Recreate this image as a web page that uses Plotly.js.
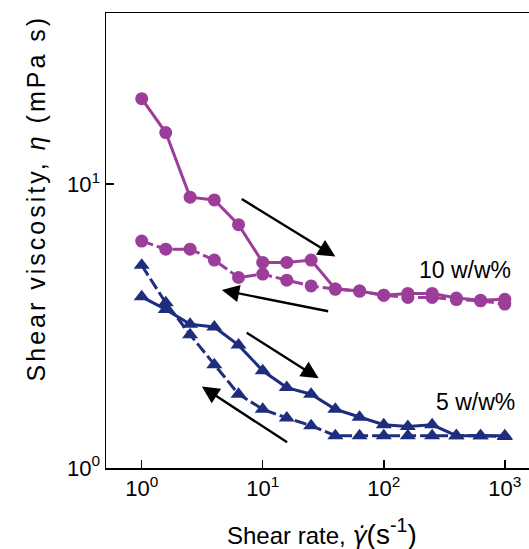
<!DOCTYPE html>
<html>
<head>
<meta charset="utf-8">
<script src="https://cdn.plot.ly/plotly-3.0.1.min.js"></script>
<style>
  html, body { margin: 0; padding: 0; background: #fff; }
  #chart { width: 529px; height: 549px; }
  /* widen the tracking of the vertical axis label */
  .annotation[data-index="0"] .annotation-text { letter-spacing: 3px; }
</style>
</head>
<body>
<div id="chart"></div>
<script>
// Shear rate sweep points (1/s), five per decade
const shearRate = [1, 1.58, 2.51, 3.98, 6.31, 10, 15.8, 25.1, 39.8, 63.1, 100, 158, 251, 398, 631, 1000];

// 10 w/w% : increasing then decreasing shear rate (mPa s)
const visc10Up   = [20.0, 15.2, 9.0, 8.8, 7.2, 5.3, 5.3, 5.4, 4.27, 4.2, 4.06, 4.12, 4.12, 3.97, 3.9, 3.93];
const visc10Down = [6.3, 5.9, 5.9, 5.4, 4.69, 4.82, 4.59, 4.38, 4.27, 4.2, 4.06, 3.99, 3.99, 3.92, 3.88, 3.78];

// 5 w/w% : increasing then decreasing shear rate (mPa s)
const visc5Up   = [4.01, 3.62, 3.21, 3.14, 2.71, 2.20, 1.92, 1.82, 1.61, 1.51, 1.42, 1.40, 1.42, 1.30, 1.30, 1.30];
const visc5Down = [5.18, 3.82, 2.95, 2.31, 1.82, 1.61, 1.50, 1.41, 1.30, 1.30, 1.30, 1.30, 1.30, 1.30, 1.30, 1.29];

// Axis ticks
const xTickVals = [1, 10, 100, 1000];
const xTickText = ['10<sup>0</sup>', '10<sup>1</sup>', '10<sup>2</sup>', '10<sup>3</sup>'];
const yTickVals = [1, 10];
const yTickText = ['10<sup>0</sup>', '10<sup>1</sup>'];

const magenta = '#9c3d99';
const navy = '#1e2d7e';
const FONT = 'Liberation Sans, Arial, Helvetica, sans-serif';

function series(y, color, symbol, size, dash) {
  return {
    x: shearRate, y: y, type: 'scatter', mode: 'lines+markers',
    line: { color: color, width: 3, dash: dash },
    marker: { color: color, symbol: symbol, size: size },
    hoverinfo: 'skip'
  };
}

const data = [
  series(visc10Down, magenta, 'circle', 13, '12px,4px'),
  series(visc10Up, magenta, 'circle', 13, 'solid'),
  series(visc5Down, navy, 'triangle-up', 14, '12px,4px'),
  series(visc5Up, navy, 'triangle-up', 14, 'solid')
];

// Direction arrows (log10 coordinates): tip at x,y ; tail at ax,ay
function arrow(x, y, ax, ay) {
  return {
    xref: 'x', yref: 'y', axref: 'x', ayref: 'y',
    x: x, y: y, ax: ax, ay: ay, text: '',
    showarrow: true, arrowhead: 2, arrowsize: 1.45, arrowwidth: 2.4,
    arrowcolor: '#000', standoff: 0
  };
}

const layout = {
  width: 529, height: 549,
  margin: { l: 106, r: 0, t: 13, b: 81 },
  paper_bgcolor: '#fff', plot_bgcolor: '#fff',
  showlegend: false,
  font: { family: FONT, color: '#000' },
  xaxis: {
    type: 'log', range: [-0.295, 3.20],
    showline: true, linecolor: '#000', linewidth: 1.5, mirror: true,
    ticks: 'inside', ticklen: 8, tickwidth: 1.5, tickcolor: '#000',
    tickvals: xTickVals, ticktext: xTickText,
    tickfont: { size: 22, family: FONT, color: '#000' },
    showgrid: false, zeroline: false
  },
  yaxis: {
    type: 'log', range: [0, 1.603],
    showline: true, linecolor: '#000', linewidth: 1.5,
    ticks: 'inside', ticklen: 8, tickwidth: 1.5, tickcolor: '#000',
    tickvals: yTickVals, ticktext: yTickText,
    tickfont: { size: 22, family: FONT, color: '#000' },
    showgrid: false, zeroline: false
  },
  annotations: [
    {
      xref: 'paper', yref: 'paper', x: -0.165, y: 0.593,
      xanchor: 'center', yanchor: 'middle', textangle: -90, showarrow: false,
      text: 'Shear viscosity, <i>η</i> (mPa s)',
      font: { size: 25, family: FONT, color: '#000' }
    },
    {
      xref: 'paper', yref: 'paper', x: 0.51, y: -0.1406,
      xanchor: 'center', yanchor: 'middle', showarrow: false,
      text: 'Shear rate, <i><span style="font-family:DejaVu Sans">γ̇</span></i><span style="font-size:28px">(s<sup>-1</sup>)</span>',
      font: { size: 24, family: FONT, color: '#000' }
    },
    {
      xref: 'x', yref: 'y', x: 2.668, y: 0.698, showarrow: false,
      xanchor: 'center', yanchor: 'middle',
      text: '10 w/w%', font: { size: 23, family: FONT, color: '#000' }
    },
    {
      xref: 'x', yref: 'y', x: 2.759, y: 0.233, showarrow: false,
      xanchor: 'center', yanchor: 'middle',
      text: '5 w/w%', font: { size: 23, family: FONT, color: '#000' }
    },
    arrow(1.600, 0.745, 0.814, 0.951),
    arrow(0.662, 0.627, 1.553, 0.551),
    arrow(1.462, 0.316, 0.855, 0.480),
    arrow(0.497, 0.287, 1.214, 0.087)
  ]
};

Plotly.newPlot('chart', data, layout, { displayModeBar: false, staticPlot: true });
</script>
</body>
</html>
